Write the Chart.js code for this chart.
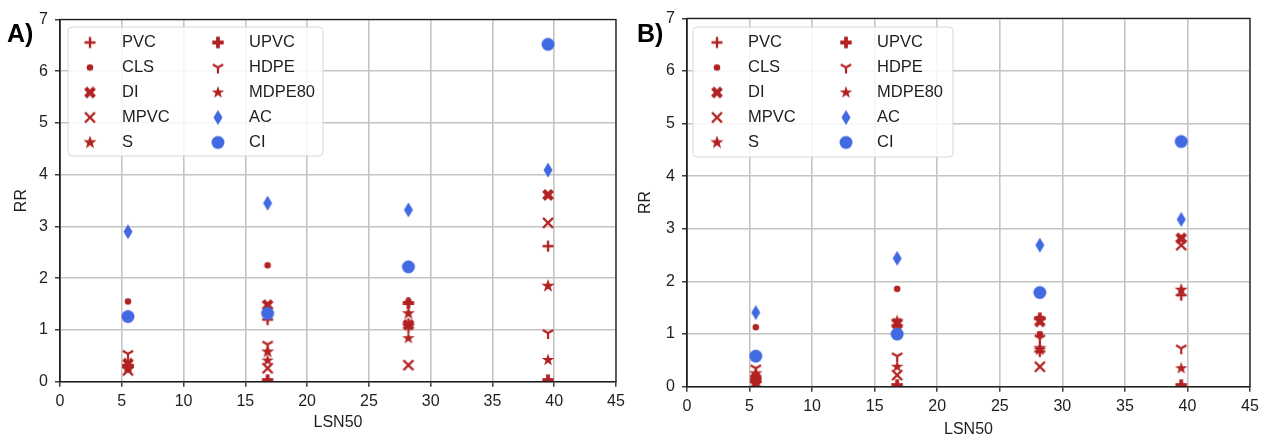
<!DOCTYPE html>
<html>
<head>
<meta charset="utf-8">
<script src="https://cdn.jsdelivr.net/npm/chart.js@4.4.0/dist/chart.umd.min.js"></script>
<style>
  body { margin: 0; background: #fff; width: 1265px; height: 437px; overflow: hidden; position: relative; }
  canvas.panel { position: absolute; top: 0; }
  .tag { position: absolute; top: 21px; font-family: 'Liberation Sans', Arial, sans-serif; font-weight: bold; font-size: 25px; line-height: 25px; color: #000; }
</style>
</head>
<body>
<canvas id="chartA" class="panel" width="632" height="437" style="left:0"></canvas>
<canvas id="chartB" class="panel" width="633" height="437" style="left:632px"></canvas>
<div class="tag" style="left:7px">A)</div>
<div class="tag" style="left:637px">B)</div>
<script>
// x positions of the four groups (LSN50)
const lsn50 = [5.5, 16.8, 28.2, 39.5];
const xTickValues = [0, 5, 10, 15, 20, 25, 30, 35, 40, 45];
const yTickValues = [0, 1, 2, 3, 4, 5, 6, 7];
const materials = ['PVC', 'CLS', 'DI', 'MPVC', 'S', 'UPVC', 'HDPE', 'MDPE80', 'AC', 'CI'];

// Panel A - RR per material
const rrA_PVC    = [0.28, 1.20, 1.12, 2.62];
const rrA_CLS    = [1.55, 2.25, 1.55, 3.61];
const rrA_DI     = [0.35, 1.48, 1.10, 3.61];
const rrA_MPVC   = [0.22, 0.26, 0.32, 3.07];
const rrA_S      = [0.30, 0.58, 1.32, 1.85];
const rrA_UPVC   = [0.30, 0.03, 1.52, 0.03];
const rrA_HDPE   = [0.54, 0.72, 1.05, 0.94];
const rrA_MDPE80 = [0.25, 0.41, 0.84, 0.42];
const rrA_AC     = [2.90, 3.45, 3.32, 4.09];
const rrA_CI     = [1.26, 1.32, 2.22, 6.52];

// Panel B - RR per material
const rrB_PVC    = [0.18, 1.17, 0.67, 1.74];
const rrB_CLS    = [1.13, 1.86, 1.00, 2.82];
const rrB_DI     = [0.15, 1.20, 1.24, 2.82];
const rrB_MPVC   = [0.08, 0.22, 0.38, 2.69];
const rrB_S      = [0.25, 1.24, 0.73, 1.84];
const rrB_UPVC   = [0.12, 0.03, 1.30, 0.03];
const rrB_HDPE   = [0.35, 0.58, 0.92, 0.73];
const rrB_MDPE80 = [0.05, 0.38, 0.70, 0.35];
const rrB_AC     = [1.41, 2.44, 2.69, 3.18];
const rrB_CI     = [0.58, 1.00, 1.79, 4.66];

const seriesA = [rrA_PVC, rrA_CLS, rrA_DI, rrA_MPVC, rrA_S, rrA_UPVC, rrA_HDPE, rrA_MDPE80, rrA_AC, rrA_CI];
const seriesB = [rrB_PVC, rrB_CLS, rrB_DI, rrB_MPVC, rrB_S, rrB_UPVC, rrB_HDPE, rrB_MDPE80, rrB_AC, rrB_CI];

const RED = '#b22222';
const BLUE = '#4169e1';
const FONT = "'Liberation Sans', Arial, sans-serif";
const TEXT = '#1e1e1e';

// Marker images (matplotlib-like shapes)
function marker(draw, w = 18, h = 18) {
    const c = document.createElement('canvas');
    c.width = w;
    c.height = h;
    const g = c.getContext('2d');
    g.translate(w / 2, h / 2);
    draw(g);
    return c;
}

function fillPoly(g, pts, color) {
    g.beginPath();
    pts.forEach(([x, y], i) => (i ? g.lineTo(x, y) : g.moveTo(x, y)));
    g.closePath();
    g.fillStyle = color;
    g.fill();
}

function strokeLines(g, segs, color, lw) {
    g.strokeStyle = color;
    g.lineWidth = lw;
    g.lineCap = 'butt';
    g.beginPath();
    segs.forEach(([x1, y1, x2, y2]) => { g.moveTo(x1, y1); g.lineTo(x2, y2); });
    g.stroke();
}

const plusShape = [[-1, -3], [-1, -1], [-3, -1], [-3, 1], [-1, 1], [-1, 3], [1, 3], [1, 1], [3, 1], [3, -1], [1, -1], [1, -3]];

function starPts(R, r) {
    const pts = [];
    for (let i = 0; i < 10; i++) {
        const a = -Math.PI / 2 + i * Math.PI / 5;
        const rad = i % 2 ? r : R;
        pts.push([rad * Math.cos(a), rad * Math.sin(a)]);
    }
    return pts;
}

const markers = {
    PVC: marker(g => strokeLines(g, [[-5.5, 0, 5.5, 0], [0, -5.5, 0, 5.5]], RED, 2.4)),
    CLS: marker(g => { g.beginPath(); g.arc(0, 0, 3.3, 0, Math.PI * 2); g.fillStyle = RED; g.fill(); }),
    DI: marker(g => fillPoly(g, plusShape.map(([x, y]) => [(x - y) / Math.SQRT2 * 2.1, (x + y) / Math.SQRT2 * 2.1]), RED)),
    MPVC: marker(g => strokeLines(g, [[-5, -5, 5, 5], [-5, 5, 5, -5]], RED, 2.4)),
    S: marker(g => fillPoly(g, starPts(7, 2.8), RED)),
    UPVC: marker(g => fillPoly(g, plusShape.map(([x, y]) => [x * 1.9, y * 1.9]), RED)),
    HDPE: marker(g => strokeLines(g, [[0, 0, 0, 6], [0, 0, 5.2, -3], [0, 0, -5.2, -3]], RED, 2.2)),
    MDPE80: marker(g => fillPoly(g, starPts(6.6, 2.6), RED)),
    AC: marker(g => fillPoly(g, [[0, -7.5], [4.5, 0], [0, 7.5], [-4.5, 0]], BLUE), 12, 18),
    CI: marker(g => { g.beginPath(); g.arc(0, 0, 6.5, 0, Math.PI * 2); g.fillStyle = BLUE; g.fill(); })
};

const legendCols = [['PVC', 'CLS', 'DI', 'MPVC', 'S'], ['UPVC', 'HDPE', 'MDPE80', 'AC', 'CI']];

// Frame around the plot area and the two-column legend
const matFrame = {
    id: 'matFrame',
    afterDatasetsDraw(chart, args, opts) {
        const ctx = chart.ctx;
        const a = chart.chartArea;
        ctx.save();
        ctx.strokeStyle = TEXT;
        ctx.lineWidth = 1.3;
        ctx.strokeRect(a.left, a.top, a.right - a.left, a.bottom - a.top);

        const { x, y, w, h } = opts;
        ctx.beginPath();
        ctx.roundRect(x, y, w, h, 4);
        ctx.fillStyle = 'rgba(255,255,255,0.85)';
        ctx.fill();
        ctx.strokeStyle = '#d6d6d6';
        ctx.lineWidth = 1;
        ctx.stroke();

        ctx.font = '16.5px ' + FONT;
        ctx.fillStyle = TEXT;
        ctx.textBaseline = 'middle';
        legendCols.forEach((col, ci) => {
            col.forEach((name, ri) => {
                const my = y + 15.5 + ri * 25;
                const img = markers[name];
                ctx.drawImage(img, x + opts.markX[ci] - img.width / 2, my - img.height / 2);
                ctx.fillText(name, x + opts.textX[ci], my);
            });
        });
        ctx.restore();
    }
};

function makeChart(id, series, geom) {
    const datasets = materials.map((m, i) => ({
        label: m,
        data: lsn50.map((x, j) => ({ x: x, y: series[i][j] })),
        pointStyle: markers[m],
        pointRadius: 6,
        order: materials.length - i
    }));

    return new Chart(document.getElementById(id), {
        type: 'scatter',
        data: { datasets },
        plugins: [matFrame],
        options: {
            responsive: false,
            animation: false,
            devicePixelRatio: 1,
            layout: { padding: { left: 0, top: geom.padTop, right: geom.padRight, bottom: 0 } },
            plugins: {
                legend: { display: false },
                tooltip: { enabled: false },
                matFrame: geom.legend
            },
            scales: {
                x: {
                    type: 'linear',
                    min: xTickValues[0],
                    max: xTickValues[xTickValues.length - 1],
                    afterBuildTicks: s => { s.ticks = xTickValues.map(v => ({ value: v })); },
                    afterFit: s => { s.height = geom.xHeight; },
                    grid: { color: '#c4c4c4', lineWidth: 1.6, tickColor: TEXT, tickLength: 5, tickWidth: 1.3 },
                    border: { display: true, color: TEXT, width: 1.3 },
                    ticks: { color: TEXT, font: { family: FONT, size: 16 }, padding: 5, maxRotation: 0, autoSkip: false },
                    title: { display: true, text: 'LSN50', color: TEXT, font: { family: FONT, size: 16 }, padding: { top: 0, bottom: geom.xTitlePad } }
                },
                y: {
                    type: 'linear',
                    min: yTickValues[0],
                    max: yTickValues[yTickValues.length - 1],
                    afterBuildTicks: s => { s.ticks = yTickValues.map(v => ({ value: v })); },
                    afterFit: s => { s.width = geom.yWidth; },
                    grid: { color: '#c4c4c4', lineWidth: 1.6, tickColor: TEXT, tickLength: 5, tickWidth: 1.3 },
                    border: { display: true, color: TEXT, width: 1.3 },
                    ticks: { color: TEXT, font: { family: FONT, size: 16 }, padding: 7, autoSkip: false },
                    title: { display: true, text: 'RR', color: TEXT, font: { family: FONT, size: 16 }, padding: { top: geom.yTitlePad, bottom: 0 } }
                }
            }
        }
    });
}

makeChart('chartA', seriesA, {
    padTop: 19.5, padRight: 16, xHeight: 55.3, yWidth: 60,
    xTitlePad: 4.4, yTitlePad: 12.2,
    legend: { x: 68, y: 27, w: 255, h: 129, markX: [22, 150], textX: [54, 181] }
});

makeChart('chartB', seriesB, {
    padTop: 18.4, padRight: 15, xHeight: 50.3, yWidth: 55,
    xTitlePad: -2.5, yTitlePad: 3.5,
    legend: { x: 61, y: 27, w: 260, h: 130, markX: [24, 153], textX: [55, 184] }
});
</script>
</body>
</html>
